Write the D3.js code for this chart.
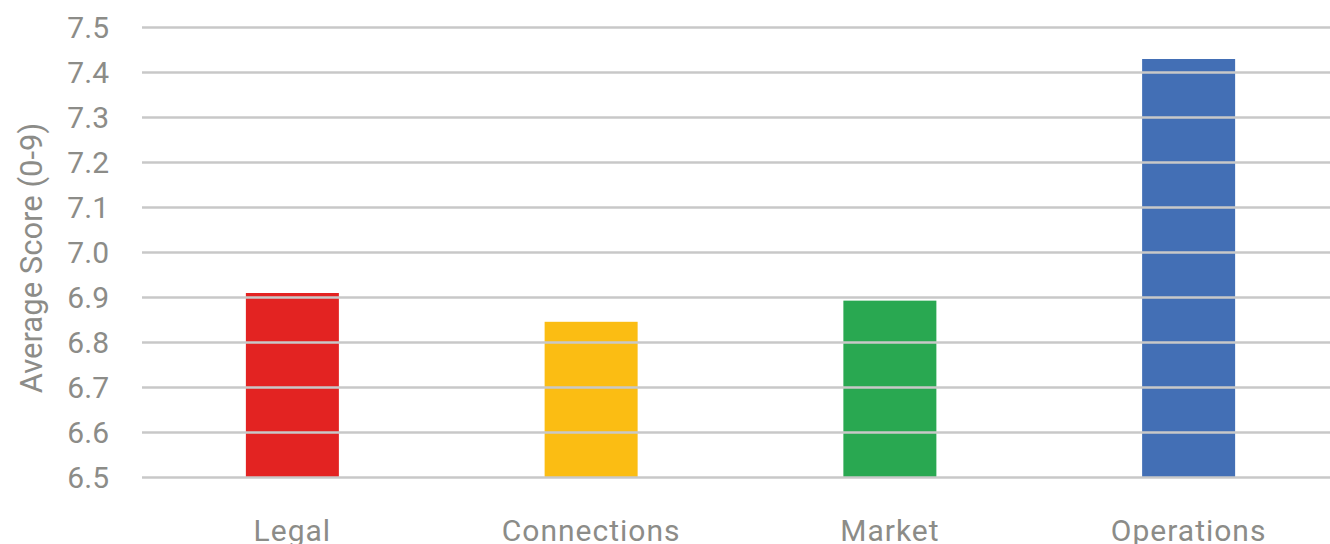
<!DOCTYPE html>
<html><head><meta charset="utf-8">
<script src="https://cdn.jsdelivr.net/npm/d3@7"></script>
<style>body{margin:0;background:#fff}svg{display:block}text{font-family:Roboto,"Noto Sans",sans-serif;fill:#8c8c88}</style>
</head><body><svg id="c" width="1330" height="544"></svg>
<script>
const categories = ["Legal", "Connections", "Market", "Operations"];
const values = [6.91, 6.846, 6.893, 7.43];
const colors = ["#e32322", "#fbbd13", "#29a851", "#436fb5"];
const yTicks = [6.5, 6.6, 6.7, 6.8, 6.9, 7.0, 7.1, 7.2, 7.3, 7.4, 7.5];
const yTitle = "Average Score (0-9)";

const svg = d3.select("#c");
const x = d3.scaleBand().domain(categories).range([143, 1338]).padding(0);
const y = d3.scaleLinear().domain([6.5, 7.5]).range([477.5, 27.5]);
const barW = 93;

svg.append("g").selectAll("rect").data(categories).join("rect")
  .attr("x", d => x(d) + x.bandwidth() / 2 - barW / 2)
  .attr("width", barW)
  .attr("y", (d, i) => y(values[i]))
  .attr("height", (d, i) => y(6.5) - y(values[i]))
  .attr("fill", (d, i) => colors[i]);

svg.append("g").selectAll("line").data(yTicks).join("line")
  .attr("x1", 142).attr("x2", 1330)
  .attr("y1", d => y(d)).attr("y2", d => y(d))
  .attr("stroke", "#c8c8c8").attr("stroke-width", 2.6);

svg.append("g").selectAll("text").data(yTicks).join("text")
  .attr("x", 109).attr("y", d => y(d)).attr("dy", "0.36em")
  .attr("text-anchor", "end").attr("font-size", 30)
  .text(d => d3.format(".1f")(d));

svg.append("g").selectAll("text").data(categories).join("text")
  .attr("x", d => x(d) + x.bandwidth() / 2).attr("y", 541)
  .attr("text-anchor", "middle").attr("font-size", 30).attr("letter-spacing", 1)
  .text(d => d);

svg.append("text")
  .attr("transform", "translate(42,258) rotate(-90)")
  .attr("text-anchor", "middle").attr("font-size", 31)
  .text(yTitle);
</script></body></html>
